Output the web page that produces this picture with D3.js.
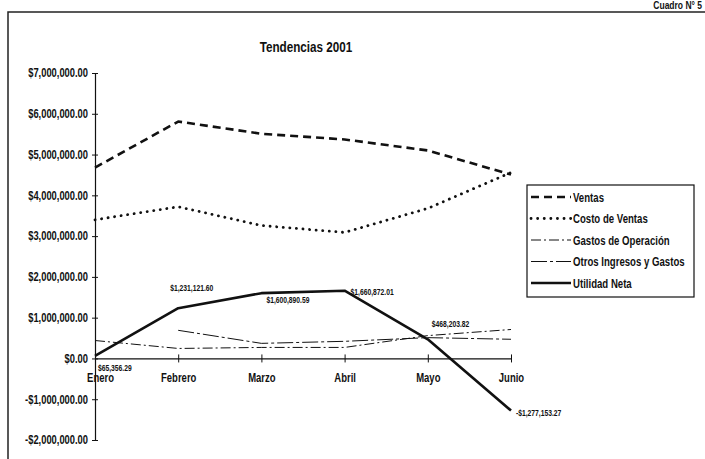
<!DOCTYPE html>
<html>
<head>
<meta charset="utf-8">
<script src="https://cdn.jsdelivr.net/npm/d3@7"></script>
<style>
  body { margin: 0; background: #fff; }
  svg text { font-family: "Liberation Sans", Arial, sans-serif; fill: #111; }
</style>
</head>
<body>
<div id="chart"></div>
<script>
// data
var months = ["Enero", "Febrero", "Marzo", "Abril", "Mayo", "Junio"];
var ventas = [4680000, 5810000, 5510000, 5370000, 5100000, 4510000];
var costoVentas = [3400000, 3720000, 3260000, 3090000, 3680000, 4560000];
var gastosOperacion = [440000, 245000, 270000, 270000, 560000, 710000];
var otrosIngresos = [null, 690000, 370000, 420000, 510000, 470000];
var utilidadNeta = [65356.29, 1231121.60, 1600890.59, 1660872.01, 468203.82, -1277153.27];
var yTicks = [-2000000, -1000000, 0, 1000000, 2000000, 3000000, 4000000, 5000000, 6000000, 7000000];

var series = [
  {name: "Ventas", values: ventas, width: 2.6, dash: "8,5", cap: "butt"},
  {name: "Costo de Ventas", values: costoVentas, width: 2.8, dash: "0.1,6.5", cap: "round"},
  {name: "Gastos de Operación", values: gastosOperacion, width: 1, dash: "10,3,2,3", cap: "butt"},
  {name: "Otros Ingresos y Gastos", values: otrosIngresos, width: 1, dash: "16,3,3,3", cap: "butt"},
  {name: "Utilidad Neta", values: utilidadNeta, width: 2.6, dash: null, cap: "butt"}
];

var fmt = d3.formatLocale({decimal: ".", thousands: ",", grouping: [3], currency: ["$", ""], minus: "-"}).format("$,.2f");

// squeeze text horizontally to look like the narrow font of the original
function narrow(sel, f) {
  sel.each(function() {
    var t = d3.select(this);
    var x = +t.attr("x") || 0;
    t.attr("x", x / f).attr("transform", "scale(" + f + ",1)");
  });
}

var svg = d3.select("#chart").append("svg")
  .attr("width", 705)
  .attr("height", 459);

// frame of the scanned page
svg.append("path")
  .attr("d", "M8,459 L8,12 L705,12")
  .attr("fill", "none")
  .attr("stroke", "#222")
  .attr("stroke-width", 1.5);

svg.append("text")
  .attr("x", 702)
  .attr("y", 9)
  .attr("text-anchor", "end")
  .style("font-size", "10px")
  .style("font-weight", "bold")
  .text("Cuadro N° 5")
  .call(narrow, 0.85);

// title
svg.append("text")
  .attr("x", 306)
  .attr("y", 52)
  .attr("text-anchor", "middle")
  .style("font-size", "15px")
  .style("font-weight", "bold")
  .text("Tendencias 2001")
  .call(narrow, 0.78);

var x = d3.scalePoint().domain(months).range([95, 511]);
var y = d3.scaleLinear().domain([-2000000, 7000000]).range([440, 73]);

// y axis
var yAxis = svg.append("g")
  .attr("transform", "translate(95,0)")
  .call(d3.axisLeft(y).tickValues(yTicks).tickFormat(fmt).tickSize(3).tickPadding(4));
yAxis.select(".domain").attr("stroke", "#111").attr("stroke-width", 1.2);
yAxis.selectAll(".tick line").attr("x1", -3).attr("x2", 3).attr("stroke", "#111");
yAxis.selectAll(".tick text").style("font-size", "12px").style("font-weight", "bold")
  .attr("fill", "#111").call(narrow, 0.78);

// x axis at zero
var xAxis = svg.append("g")
  .attr("transform", "translate(0," + y(0) + ")")
  .call(d3.axisBottom(x).tickSize(4).tickSizeOuter(0).tickPadding(11));
xAxis.select(".domain").attr("stroke", "#111").attr("stroke-width", 1.2);
xAxis.selectAll(".tick line").attr("y1", -4).attr("y2", 4).attr("stroke", "#111");
xAxis.selectAll(".tick text").style("font-size", "12.5px").style("font-weight", "bold").attr("fill", "#111")
  .filter(function(d) { return d === "Enero"; }).attr("x", 5);
xAxis.selectAll(".tick text").call(narrow, 0.76);

var line = d3.line()
  .defined(function(d) { return d != null; })
  .x(function(d, i) { return x(months[i]); })
  .y(function(d) { return y(d); });

series.forEach(function(s) {
  svg.append("path")
    .datum(s.values)
    .attr("fill", "none")
    .attr("stroke", "#111")
    .attr("stroke-width", s.width)
    .attr("stroke-dasharray", s.dash)
    .attr("stroke-linecap", s.cap)
    .attr("stroke-linejoin", "round")
    .attr("d", line);
});

// data labels for Utilidad Neta
var labelOffsets = [[3, 15], [-8, -17], [5, 10], [6, 4], [4, -12], [5, 5]];
svg.selectAll("text.lbl")
  .data(utilidadNeta)
  .enter().append("text")
  .attr("class", "lbl")
  .attr("x", function(d, i) { return x(months[i]) + labelOffsets[i][0]; })
  .attr("y", function(d, i) { return y(d) + labelOffsets[i][1]; })
  .style("font-size", "9px")
  .style("font-weight", "bold")
  .text(function(d) { return fmt(d); })
  .call(narrow, 0.75);

// legend
var legend = svg.append("g").attr("transform", "translate(527,185)");
legend.append("rect")
  .attr("width", 167)
  .attr("height", 112)
  .attr("fill", "#fff")
  .attr("stroke", "#111")
  .attr("stroke-width", 1.2);

var item = legend.selectAll("g.item")
  .data(series)
  .enter().append("g")
  .attr("class", "item")
  .attr("transform", function(d, i) { return "translate(0," + (12 + i * 21.5) + ")"; });

item.append("line")
  .attr("x1", 4).attr("x2", 44)
  .attr("stroke", "#111")
  .attr("stroke-width", function(d) { return d.width; })
  .attr("stroke-dasharray", function(d) { return d.dash; })
  .attr("stroke-linecap", function(d) { return d.cap; });

item.append("text")
  .attr("x", 46)
  .attr("dy", "0.35em")
  .style("font-size", "13px")
  .style("font-weight", "bold")
  .text(function(d) { return d.name; })
  .call(narrow, 0.74);
</script>
</body>
</html>
